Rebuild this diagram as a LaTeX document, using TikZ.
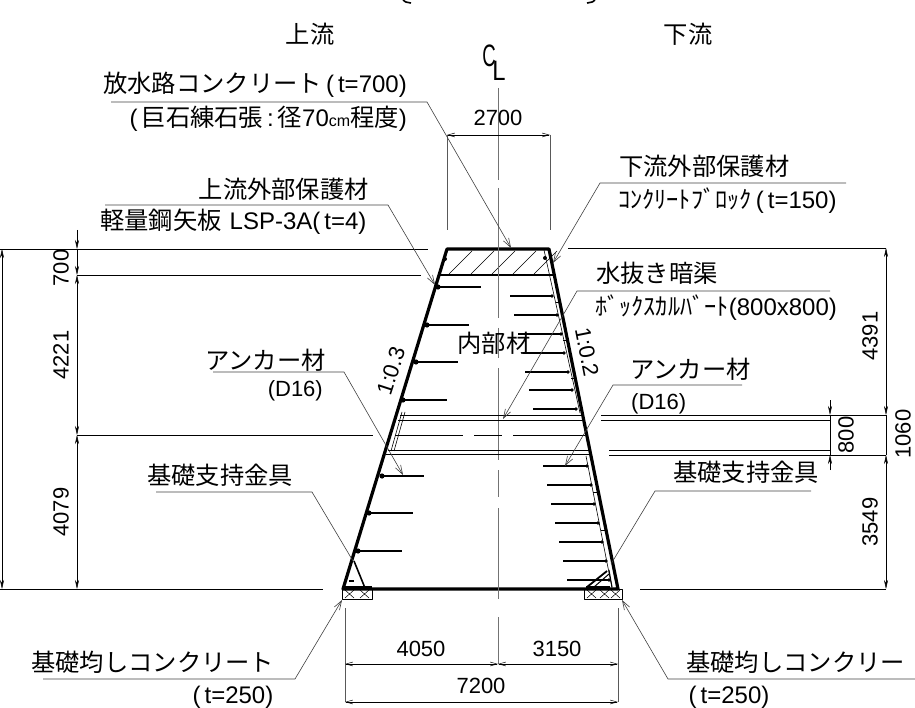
\documentclass[tikz,border=0pt]{standalone}
\usepackage{fontspec}
\setmainfont{Liberation Sans}
\newfontfamily\jpfont{Noto Sans CJK JP}
\newcommand{\jp}[1]{{\jpfont\fontsize{24.3}{26}\selectfont #1}}
\usetikzlibrary{arrows.meta}
\tikzset{
	dimline/.style={line width=0.5pt,{Stealth[length=9pt,width=4pt]}-{Stealth[length=9pt,width=4pt]}},
	dimbarb/.style={line width=0.5pt,{Straight Barb[length=7pt,width=4pt]}-{Straight Barb[length=7pt,width=4pt]}},
	extline/.style={line width=0.7pt},
	faintline/.style={line width=0.6pt,black!65},
	leader/.style={line width=0.6pt,black!75},
	leadarrow/.style={line width=0.6pt,black!75,-{Straight Barb[length=9pt,width=6pt]}},
	wall/.style={line width=3.2pt},
	lbl/.style={font=\fontsize{22}{24}\selectfont,inner sep=0pt},
	lblwide/.style={font=\fontsize{24}{26}\selectfont,inner sep=0pt},
}
\begin{document}
\begin{tikzpicture}[x=1pt,y=-1pt,line join=round,>=stealth]
	\useasboundingbox (0,0) rectangle (915,708);
	%Title remains
	\draw[line width=1.6pt] (403,0) .. controls (405,2) .. (411,3);
	\draw[line width=1.6pt] (595,0) .. controls (593,2) .. (587,3);
	%Outline
	\draw[wall] (343,589)--(447,249)--(549,249)--(618,589)--cycle;
	\draw[line width=1.5pt] (440,275)--(510,275);
	\draw[line width=2.2pt] (507,275)--(555,275);
	%Cap hatching
	\foreach \x in {449,471,492,513,534}
		\draw[line width=0.5pt] (\x,274)--(\x+23,251);
	%Centre line
	\foreach \ya/\yb in {88/180,188/318,328/358,368/460,470/497,508/599,617/664}
		\draw[line width=0.9pt,black!55] (498,\ya)--(498,\yb);
	%Anchors upstream
	\foreach \y/\xa/\xb in {287/438/481,325/427/469,362/416/458,400/403/447,476/382/424,513/369/413,551/358/402}{
		\draw[line width=1.5pt] (\xa,\y)--(\xb,\y);
		\fill (\xa,\y) circle (2.6);
	}
	\fill (445,259) circle (2);
	\draw[line width=1.5pt] (349,581)--(354,581);
	%Anchors downstream
	\foreach \y/\xa/\xb in {296/510/552,315/514/557,334/518/561,353/523/564,372/525/568,390/529/572,409/533/576,
		466/543/587,485/547/591,504/551/594,523/555/598,542/559/602,561/563/606,580/567/609}{
		\draw[line width=1.3pt] (\xa,\y)--(\xb,\y);
		\fill (\xb,\y) circle (1.8);
	}
	%Inner plate downstream
	\draw[line width=0.6pt] (544,250)--(580,413);
	\draw[line width=0.6pt] (586,456)--(612,588);
	\foreach \x/\y in {556/302,563/340,571/378,593/492,601/530}
		\draw[line width=0.8pt] (\x,\y)--(\x+5,\y);
	\fill (545,258) circle (2);
	%Inner plate upstream
	\draw[line width=0.6pt] (402,412)--(391,451);
	\draw[line width=0.6pt] (405,412)--(394,451);
	%Culvert
	\draw[extline] (400,415)--(581,415);
	\draw[extline] (398,420)--(584,420);
	\draw[extline] (388,450)--(590,450);
	\draw[extline] (386,454)--(592,454);
	\foreach \xa/\xb in {395/463,474/502,513/585}
		\draw[extline] (\xa,435)--(\xb,435);
	\draw[extline] (601,415)--(886,415);
	\draw[line width=0.5pt] (601,420)--(830,420);
	\draw[line width=0.5pt] (609,450)--(830,450);
	\draw[extline] (609,455)--(886,455);
	%Foundation supports
	\draw[line width=1pt] (342,589) rectangle (372,599);
	\draw[line width=0.5pt] (345,590)--(354,598) (354,590)--(345,598) (360,590)--(369,598) (369,590)--(360,598);
	\draw[line width=1.5pt] (343,587)--(372,587);
	\draw[line width=1.6pt] (354,561)--(365,588);
	\draw[line width=1pt] (584,589) rectangle (622,599);
	\draw[line width=0.5pt] (587,590)--(596,598) (596,590)--(587,598) (600,590)--(609,598) (609,590)--(600,598) (611,590)--(620,598) (620,590)--(611,598);
	\draw[line width=1.8pt] (587,587)--(607,571);
	\draw[line width=1pt] (594,587)--(609,574);
	\draw[line width=1.5pt] (586,587)--(610,587);
	\draw[line width=1pt] (609,570)--(612,587);
	%Extension lines
	\draw[extline] (0,249)--(428,249);
	\draw[extline] (77,275)--(421,275);
	\draw[extline] (77,435)--(373,435);
	\draw[extline] (0,589)--(323,589);
	\draw[extline] (568,248)--(886,248);
	\draw[extline] (640,589)--(886,589);
	\draw[faintline] (447,135)--(447,230);
	\draw[faintline] (550,135)--(550,230);
	\draw[faintline] (345,608)--(345,702);
	\draw[faintline] (618,608)--(618,702);
	%Dimensions
	\draw[dimline] (2,249)--(2,589);
	\draw[line width=0.5pt,-{Stealth[length=9pt,width=4pt]}] (77,230)--(77,249);
	\draw[line width=0.5pt,{Stealth[length=9pt,width=4pt]}-{Stealth[length=9pt,width=4pt]}] (77,275)--(77,435);
	\draw[line width=0.5pt,{Stealth[length=9pt,width=4pt]}-] (77,275)--(77,249);
	\draw[dimline] (77,435)--(77,589);
	\draw[dimline] (886,248)--(886,415);
	\draw[dimline] (886,455)--(886,589);
	\draw[line width=0.5pt] (886,415)--(886,455);
	\draw[line width=0.5pt,-{Stealth[length=9pt,width=4pt]}] (830,400)--(830,415);
	\draw[line width=0.5pt,-{Stealth[length=9pt,width=4pt]}] (830,470)--(830,455);
	\draw[line width=0.5pt] (830,415)--(830,455);
	\draw[dimbarb] (447,135)--(550,135);
	\draw[dimbarb] (345,664)--(498,664);
	\draw[dimbarb] (498,664)--(618,664);
	\draw[dimbarb] (345,702)--(618,702);
	%Leaders
	\draw[leadarrow] (111,102)--(427,102)--(511,248);
	\draw[leadarrow] (105,205)--(388,205)--(435,285);
	\draw[leadarrow] (846,183)--(600,183)--(553,263);
	\draw[leadarrow] (830,291)--(577,291)--(503,419);
	\draw[leadarrow] (213,372)--(344,372)--(403,475);
	\draw[leadarrow] (742,385)--(613,385)--(565,466);
	\draw[leader] (156,492)--(312,492)--(353,561);
	\draw[leader] (811,491)--(655,491)--(611,564);
	\draw[leadarrow] (43,679)--(295,679)--(342,600);
	\draw[leadarrow] (915,679)--(668,679)--(622,600);
	%Labels
	\node[lbl] (upstream) at (310,34) {\jp{上流}};
	\node[lbl] (downstream) at (688,34) {\jp{下流}};
	\node[lbl,font=\fontsize{31}{33}\selectfont,xscale=0.6] (clc) at (489,56) {C};
	\node[lbl,font=\fontsize{28}{30}\selectfont,xscale=0.85] (cll) at (499,71) {L};
	\node[lblwide,anchor=east] (spillway) at (407,85) {\jp{放水路コンクリート}\,(\,t=700)};
	\node[lblwide,anchor=east] (stone) at (407,119) {(\,\jp{巨石練石張}\,:\,\jp{径}70{\fontsize{16}{18}\selectfont cm}\jp{程度})};
	\node[lbl,anchor=east] (upcover) at (369,189) {\jp{上流外部保護材}};
	\node[lblwide,anchor=west] (lsp) at (100,222) {\jp{軽量鋼矢板}\,\,LSP-3A(\,t=4)};
	\node[lbl,anchor=west] (dncover) at (619,166) {\jp{下流外部保護材}};
	\node[lblwide,anchor=west] (block) at (618,201) {\jp{ｺﾝｸﾘｰﾄﾌﾞﾛｯｸ}\,(\,t=150)};
	\node[lbl,anchor=west] (drain) at (596,273) {\jp{水抜き暗渠}};
	\node[lblwide,anchor=west] (box) at (595,308) {\jp{ﾎﾞｯｸｽｶﾙﾊﾞｰﾄ}(800x800)};
	\node[lbl,anchor=west] (anchorup) at (205,360) {\jp{アンカー材}};
	\node[lbl,anchor=east] (d16up) at (323,391) {(D16)};
	\node[lbl,anchor=west] (anchordn) at (630,369) {\jp{アンカー材}};
	\node[lbl,anchor=west] (d16dn) at (631,404) {(D16)};
	\node[lbl,anchor=west] (supup) at (147,475) {\jp{基礎支持金具}};
	\node[lbl,anchor=west] (supdn) at (673,472) {\jp{基礎支持金具}};
	\node[lbl,anchor=west] (baseup) at (31,662) {\jp{基礎均しコンクリート}};
	\node[lbl,anchor=west] (basedn) at (686,662) {\jp{基礎均しコンクリー}};
	\node[lblwide] (tup) at (233,697) {(\,t=250)};
	\node[lblwide] (tdn) at (729,697) {(\,t=250)};
	\node[lbl] (inner) at (494,343) {\jp{内部材}};
	%Dimension labels
	\node[lbl] (d2700) at (498,118) {2700};
	\node[lbl] (d4050) at (421,649) {4050};
	\node[lbl] (d3150) at (557,649) {3150};
	\node[lbl] (d7200) at (481,686) {7200};
	\node[lbl,rotate=90] (d700) at (61,268) {700};
	\node[lbl,rotate=90] (d4221) at (61,355) {4221};
	\node[lbl,rotate=90] (d4079) at (61,512) {4079};
	\node[lbl,rotate=90] (d4391) at (870,336) {4391};
	\node[lbl,rotate=90] (d3549) at (870,522) {3549};
	\node[lbl,rotate=90] (d800) at (846,435) {800};
	\node[lbl,rotate=90] (d1060) at (903,434) {1060};
	\node[lbl,rotate=72] (slopeup) at (391,371) {1:0.3};
	\node[lbl,rotate=-79] (slopedn) at (587,352) {1:0.2};
\end{tikzpicture}
\end{document}
